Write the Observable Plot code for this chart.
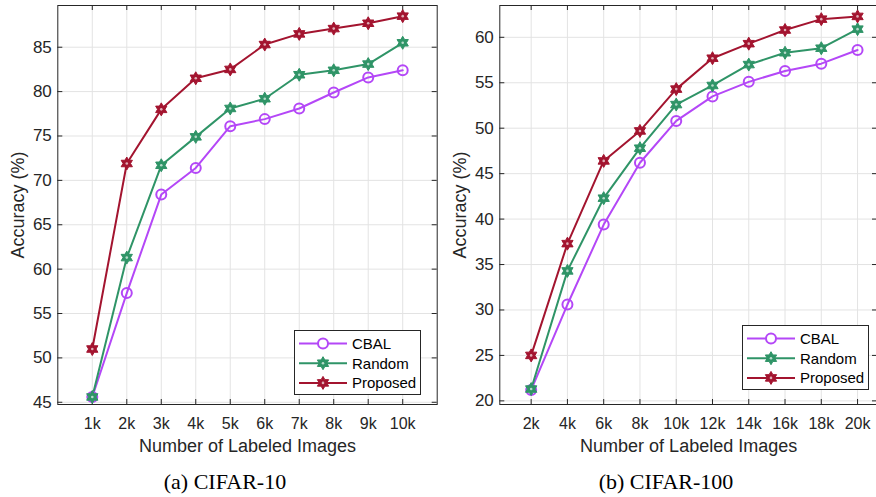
<!DOCTYPE html>
<html>
<head>
<meta charset="utf-8">
<script src="https://cdn.jsdelivr.net/npm/d3@7"></script>
<script src="https://cdn.jsdelivr.net/npm/@observablehq/plot@0.6"></script>
<style>
  html, body { margin: 0; padding: 0; background: #fff; overflow: hidden; }
  #wrap { position: relative; width: 876px; height: 497px; overflow: hidden; font-family: "Liberation Sans", Arial, sans-serif; }
  .panel { position: absolute; top: 0; }
  .caption { position: absolute; top: 471px; font-family: "Liberation Serif", "Times New Roman", serif; font-size: 22px; line-height: 22px; color: #000; text-align: center; white-space: nowrap; }
  .legend { position: absolute; }
</style>
</head>
<body>
<div id="wrap"></div>
<script>
// ---------- data ----------
const seriesNames = ["CBAL", "Random", "Proposed"];
const seriesColors = ["#b447f7", "#2f9467", "#a3142f"];

// CIFAR-10 (thousands of labeled images)
const cifar10Labeled = [1, 2, 3, 4, 5, 6, 7, 8, 9, 10];
const cifar10CBAL     = [45.6, 57.3, 68.4, 71.4, 76.1, 76.9, 78.1, 79.9, 81.6, 82.4];
const cifar10Random   = [45.6, 61.3, 71.7, 74.9, 78.1, 79.2, 81.9, 82.4, 83.1, 85.5];
const cifar10Proposed = [51.0, 71.9, 78.0, 81.5, 82.5, 85.3, 86.5, 87.1, 87.7, 88.5];
const cifar10YTicks = [45, 50, 55, 60, 65, 70, 75, 80, 85];

// CIFAR-100
const cifar100Labeled = [2, 4, 6, 8, 10, 12, 14, 16, 18, 20];
const cifar100CBAL     = [21.2, 30.6, 39.4, 46.2, 50.8, 53.5, 55.1, 56.3, 57.1, 58.6];
const cifar100Random   = [21.3, 34.3, 42.3, 47.8, 52.6, 54.7, 57.0, 58.3, 58.8, 60.9];
const cifar100Proposed = [25.0, 37.3, 46.4, 49.7, 54.3, 57.7, 59.3, 60.8, 62.0, 62.3];
const cifar100YTicks = [20, 25, 30, 35, 40, 45, 50, 55, 60];

const xLabel = "Number of Labeled Images";
const yLabel = "Accuracy (%)";
const captions = ["(a) CIFAR-10", "(b) CIFAR-100"];

// ---------- helpers ----------
const hexagram = {
  draw(ctx, size) {
    const R = Math.sqrt(size / Math.PI);
    const ri = R / Math.sqrt(3);
    for (let k = 0; k < 12; k++) {
      const a = -Math.PI / 2 + k * Math.PI / 6;
      const rad = k % 2 === 0 ? R : ri;
      const px = rad * Math.cos(a), py = rad * Math.sin(a);
      if (k === 0) ctx.moveTo(px, py); else ctx.lineTo(px, py);
    }
    ctx.closePath();
  }
};

function makeRows(xs, lists) {
  const rows = [];
  lists.forEach((vals, si) => {
    vals.forEach((v, i) => rows.push({series: seriesNames[si], x: xs[i], y: v}));
  });
  return rows;
}

const H = 460, MT = 5, MB = 56;
const frameH = H - MT - MB;
const tickLen = 5;

function panel({xs, lists, xDomain, yDomain, yTicks, width, marginLeft, marginRight}) {
  const rows = makeRows(xs, lists);
  const frameW = width - marginLeft - marginRight;
  const stars = rows.filter(d => d.series !== "CBAL");
  const circles = rows.filter(d => d.series === "CBAL");
  return Plot.plot({
    width, height: H, marginLeft, marginRight, marginTop: MT, marginBottom: MB,
    style: {fontFamily: "'Liberation Sans', Arial, sans-serif", fontSize: "16px", color: "#262626", background: "transparent", overflow: "visible"},
    x: {domain: xDomain},
    y: {domain: yDomain},
    color: {domain: seriesNames, range: seriesColors},
    marks: [
      Plot.gridX(xs, {stroke: "#e3e3e3", strokeOpacity: 1, strokeWidth: 1}),
      Plot.gridY(yTicks, {stroke: "#e3e3e3", strokeOpacity: 1, strokeWidth: 1}),
      Plot.ruleX(xs, {x: d => d, insetTop: frameH - tickLen, stroke: "#262626"}),
      Plot.ruleX(xs, {x: d => d, insetBottom: frameH - tickLen, stroke: "#262626"}),
      Plot.ruleY(yTicks, {y: d => d, insetRight: frameW - tickLen, stroke: "#262626"}),
      Plot.ruleY(yTicks, {y: d => d, insetLeft: frameW - tickLen, stroke: "#262626"}),
      Plot.frame({stroke: "#262626", strokeWidth: 1}),
      Plot.axisX(xs, {tickSize: 0, tickPadding: 13, tickFormat: d => d + "k", label: null, fontSize: 16, fill: "#262626"}),
      Plot.axisY(yTicks, {tickSize: 0, tickPadding: 6, label: null, fontSize: 17, fill: "#262626"}),
      Plot.line(rows, {x: "x", y: "y", z: "series", stroke: "series", strokeWidth: 2}),
      Plot.dot(circles, {x: "x", y: "y", r: 5, stroke: "series", fill: "white", fillOpacity: 0, strokeWidth: 2}),
      Plot.dot(stars, {x: "x", y: "y", r: 6.5, symbol: hexagram, fill: "series", stroke: "series", strokeWidth: 1}),
      Plot.dot(stars, {x: "x", y: "y", r: 1.3, fill: "white", fillOpacity: 0.65, stroke: null}),
      Plot.text([xLabel], {frameAnchor: "bottom", lineAnchor: "middle", textAnchor: "middle", dy: 42, text: d => d, fontSize: 18, fill: "#262626"}),
      Plot.text([yLabel], {frameAnchor: "left", lineAnchor: "middle", textAnchor: "middle", dx: -39.5, rotate: -90, text: d => d, fontSize: 18, fill: "#262626"})
    ]
  });
}

function legend(left, top) {
  const w = 126, h = 64;
  const svg = d3.create("svg").attr("class", "legend").attr("width", w + 2).attr("height", h + 2)
    .style("left", left + "px").style("top", top + "px");
  svg.append("rect").attr("x", 0.5).attr("y", 0.5).attr("width", w).attr("height", h)
    .attr("fill", "#fff").attr("stroke", "#262626");
  seriesNames.forEach((name, i) => {
    const cy = 13.5 + i * 19.7, color = seriesColors[i];
    const g = svg.append("g");
    g.append("line").attr("x1", 5).attr("x2", 53).attr("y1", cy).attr("y2", cy).attr("stroke", color).attr("stroke-width", 2);
    if (name === "CBAL") {
      g.append("circle").attr("cx", 29).attr("cy", cy).attr("r", 5).attr("fill", "#fff").attr("stroke", color).attr("stroke-width", 2);
    } else {
      const p = d3.path();
      hexagram.draw(p, 6.5 * 6.5 * Math.PI);
      g.append("path").attr("d", p.toString()).attr("transform", `translate(29,${cy})`).attr("fill", color).attr("stroke", color);
      g.append("circle").attr("cx", 29).attr("cy", cy).attr("r", 1.3).attr("fill", "#fff").attr("fill-opacity", 0.65);
    }
    g.append("text").attr("x", 58).attr("y", cy).attr("dy", "0.36em").attr("font-size", 15)
      .attr("font-family", "'Liberation Sans', Arial, sans-serif").attr("fill", "#000").text(name);
  });
  return svg.node();
}

const wrap = document.getElementById("wrap");

const left = panel({
  xs: cifar10Labeled, lists: [cifar10CBAL, cifar10Random, cifar10Proposed],
  xDomain: [0, 11], yDomain: [44.75, 89.7], yTicks: cifar10YTicks,
  width: 440, marginLeft: 57.3, marginRight: 3.3
});
left.classList.add("panel");
left.style.left = "0px";
wrap.appendChild(left);

const right = panel({
  xs: cifar100Labeled, lists: [cifar100CBAL, cifar100Random, cifar100Proposed],
  xDomain: [0.27, 21.1], yDomain: [19.6, 63.5], yTicks: cifar100YTicks,
  width: 438, marginLeft: 59.3, marginRight: 1
});
right.classList.add("panel");
right.style.left = "440px";
wrap.appendChild(right);

wrap.appendChild(legend(294, 330));
wrap.appendChild(legend(741.5, 325));

[[captions[0], 225], [captions[1], 666]].forEach(([t, cx]) => {
  const d = document.createElement("div");
  d.className = "caption";
  d.style.left = (cx - 150) + "px";
  d.style.width = "300px";
  d.textContent = t;
  wrap.appendChild(d);
});
</script>
</body>
</html>
